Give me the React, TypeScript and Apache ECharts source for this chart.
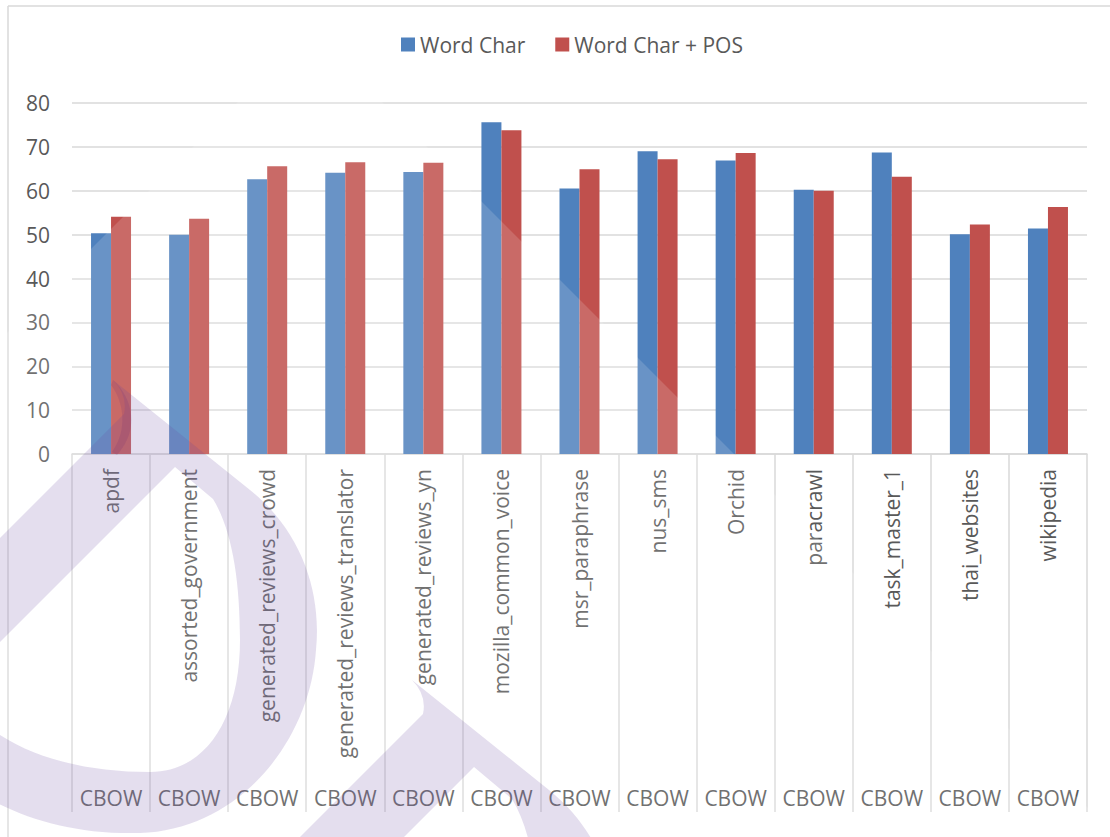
import React, { useEffect, useRef } from "react";
import * as echarts from "echarts";

// Dataset names (first axis level) and embedding type (second axis level)
const categories = [
  "apdf",
  "assorted_government",
  "generated_reviews_crowd",
  "generated_reviews_translator",
  "generated_reviews_yn",
  "mozilla_common_voice",
  "msr_paraphrase",
  "nus_sms",
  "Orchid",
  "paracrawl",
  "task_master_1",
  "thai_websites",
  "wikipedia",
];
const modelLabels = categories.map(() => "CBOW");

const wordChar = [50.3, 50.0, 62.6, 64.1, 64.3, 75.6, 60.5, 69.0, 66.9, 60.2, 68.7, 50.1, 51.4];
const wordCharPos = [54.1, 53.6, 65.6, 66.5, 66.4, 73.8, 64.9, 67.2, 68.6, 60.0, 63.2, 52.3, 56.3];

const seriesNames = ["Word Char", "Word Char + POS"];
const seriesColors = ["#4f81bd", "#c0504d"];

const FONT = "'Open Sans', 'DejaVu Sans', sans-serif";
const TEXT = "#595959";
const GRID_LINE = "#d9d9d9";

// Drop-shaped mark drawn faintly across the lower left of the chart
const DROP_PATH =
  "M 113 380 L 250 490 C 300 530 322 590 316 650 C 310 740 240 830 140 833 " +
  "C 60 835 0 810 -40 780 L -60 598 L 124 414 Q 128 395 113 380 Z " +
  "M 175 467 L -20 662 L -20 720 C 20 755 80 772 150 772 " +
  "C 205 772 240 720 240 640 C 240 580 232 530 213 499 L 175 467 Z";
const HOOK_PATH =
  "M 113 380 C 133 398 140 430 117 455 L 112 452 C 128 430 124 402 111 385 Z";

let shapesRegistered = false;
function registerShapes() {
  if (shapesRegistered) return;
  echarts.graphic.registerShape("drop", echarts.graphic.extendPath(DROP_PATH, {}));
  echarts.graphic.registerShape("hook", echarts.graphic.extendPath(HOOK_PATH, {}));
  shapesRegistered = true;
}

export default function App() {
  const ref = useRef<HTMLDivElement>(null);

  useEffect(() => {
    if (!ref.current) return;
    registerShapes();
    const chart = echarts.init(ref.current, null, { renderer: "svg" });

    const dropFill = "rgba(104, 72, 160, 0.18)";

    chart.setOption({
      animation: false,
      backgroundColor: "#ffffff",
      textStyle: { fontFamily: FONT },
      legend: {
        left: 396,
        top: 29,
        icon: "rect",
        itemWidth: 14,
        itemHeight: 14,
        itemGap: 30,
        textStyle: { fontSize: 21, color: TEXT, fontFamily: FONT },
        data: seriesNames,
      },
      grid: { left: 72, right: 23, top: 103, bottom: 383, containLabel: false },
      xAxis: [
        {
          type: "category",
          data: categories,
          axisLine: { show: true, lineStyle: { color: GRID_LINE, width: 1.5 } },
          axisTick: {
            show: true,
            interval: 0,
            length: 358,
            lineStyle: { color: GRID_LINE, width: 1.5 },
          },
          axisLabel: {
            interval: 0,
            rotate: 90,
            margin: 15,
            fontSize: 21,
            color: TEXT,
            fontFamily: FONT,
          },
          splitLine: { show: false },
        },
        {
          type: "category",
          data: modelLabels,
          position: "bottom",
          axisLine: { show: false },
          axisTick: { show: false },
          axisLabel: {
            interval: 0,
            margin: 333,
            fontSize: 21,
            color: TEXT,
            fontFamily: FONT,
          },
          splitLine: { show: false },
        },
      ],
      yAxis: {
        type: "value",
        min: 0,
        max: 80,
        interval: 10,
        axisLine: { show: false },
        axisTick: { show: false },
        axisLabel: { margin: 22, fontSize: 21, color: TEXT, fontFamily: FONT },
        splitLine: { lineStyle: { color: GRID_LINE, width: 1.5 } },
      },
      series: [
        {
          name: seriesNames[0],
          type: "bar",
          data: wordChar,
          barWidth: 20,
          barGap: "0%",
          itemStyle: { color: seriesColors[0] },
        },
        {
          name: seriesNames[1],
          type: "bar",
          data: wordCharPos,
          barWidth: 20,
          barGap: "0%",
          itemStyle: { color: seriesColors[1] },
        },
      ],
      graphic: {
        elements: [
          // chart frame (top and left edges)
          {
            type: "line",
            silent: true,
            z: 50,
            shape: { x1: 8, y1: 6, x2: 1110, y2: 6 },
            style: { stroke: GRID_LINE, lineWidth: 1.5 },
          },
          {
            type: "line",
            silent: true,
            z: 50,
            shape: { x1: 8, y1: 6, x2: 8, y2: 837 },
            style: { stroke: GRID_LINE, lineWidth: 1.5 },
          },
          // soft light wedge
          {
            type: "polygon",
            silent: true,
            z: 100,
            shape: { points: [[310, 30], [-700, 1040], [1320, 1040]] },
            style: { fill: "rgba(255, 255, 255, 0.15)" },
          },
          // drop marks
          { type: "drop", silent: true, z: 101, x: 0, y: 0, style: { fill: dropFill } },
          { type: "drop", silent: true, z: 101, x: 299, y: 300, style: { fill: dropFill } },
          {
            type: "hook",
            silent: true,
            z: 102,
            x: 0,
            y: 0,
            style: { fill: "rgba(104, 40, 120, 0.16)" },
          },
        ],
      },
    });

    return () => chart.dispose();
  }, []);

  return (
    <div
      ref={ref}
      style={{
        position: "fixed",
        left: 0,
        top: 0,
        width: 1110,
        height: 837,
        background: "#ffffff",
      }}
    />
  );
}
